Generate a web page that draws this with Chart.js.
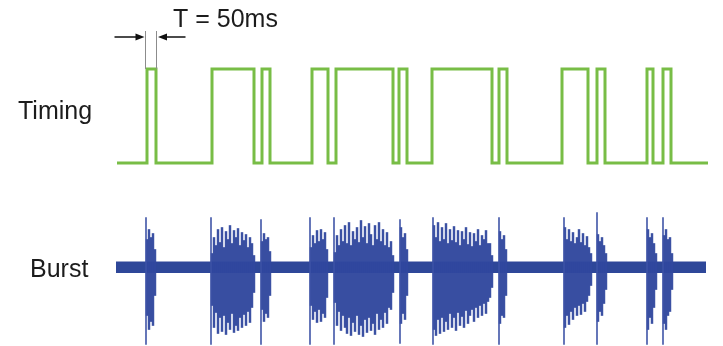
<!DOCTYPE html>
<html>
<head>
<meta charset="utf-8">
<script src="https://cdn.jsdelivr.net/npm/chart.js@4"></script>
<style>
  html, body { margin: 0; padding: 0; background: #ffffff; }
  #wrap { width: 723px; height: 346px; position: relative; }
</style>
</head>
<body>
<div id="wrap"><canvas id="c" width="723" height="346"></canvas></div>
<script>
// ---------- data (time in ms) ----------
const rowLabels = ['Timing', 'Burst'];
const periodLabel = 'T = 50ms';
const periodStartMs = 150;
const periodEndMs = 195;

// timing signal: level changes at these instants
const timingEdgeMs = [0, 150, 195, 475, 685, 725, 765, 975, 1055, 1095, 1380, 1410, 1450,
                      1575, 1875, 1910, 1950, 2225, 2355, 2400, 2440, 2650, 2680, 2730, 2770, 2955];
const timingLevel  = [0, 1, 0, 1, 0, 1, 0, 1, 0, 1, 0, 1, 0,
                      1, 0, 1, 0, 1, 0, 1, 0, 1, 0, 1, 0, 0];

// background noise of the burst trace (mV)
const noiseStartMs = -5;
const noiseEndMs = 2945;
const noiseHigh = 5.5;
const noiseLow = -5.5;

// tall single spikes at the start of each burst (mV)
const spikeMs   = [145, 470, 720, 965, 1085, 1415, 1580, 1910, 2235, 2400, 2650, 2730];
const spikeHigh = [50, 50, 48, 50, 50, 48, 50, 50, 50, 55, 50, 50];
const spikeLow  = [-77, -77, -77, -77, -77, -76, -77, -77, -77, -77, -77, -77];

// burst envelopes, sampled every 10 ms from each cluster start (mV)
const sampleStepMs = 10;
const clusterStartMs = [150, 475, 725, 970, 1090, 1420, 1585, 1915, 2240, 2405, 2655, 2735];
const clusterHigh = [
  [28, 38, 30, 34, 18],
  [14, 30, 22, 38, 25, 40, 20, 36, 28, 42, 24, 37, 30, 39, 22, 35, 27, 33, 20, 30, 24, 12],
  [26, 34, 28, 30, 16],
  [20, 32, 24, 37, 26, 38, 28, 35, 18],
  [15, 32, 22, 38, 26, 42, 24, 45, 22, 36, 28, 40, 25, 47, 30, 41, 24, 44, 33, 22, 42, 28, 45, 26, 38, 22, 35, 20, 26, 12],
  [40, 30, 34, 18],
  [42, 30, 45, 26, 40, 28, 44, 24, 38, 27, 41, 25, 37, 22, 36, 28, 40, 23, 35, 21, 34, 26, 38, 22, 32, 28, 37, 24, 24, 12],
  [36, 28, 32, 18],
  [40, 28, 38, 26, 35, 24, 30, 38, 25, 34, 22, 31, 20, 14],
  [33, 26, 30, 22, 14],
  [38, 30, 34, 24, 14],
  [32, 38, 28, 30, 14]
];
const clusterLow = [
  [-48, -62, -54, -58, -28],
  [-38, -60, -45, -66, -50, -64, -48, -67, -55, -62, -46, -65, -58, -63, -50, -60, -47, -58, -44, -55, -40, -25],
  [-42, -54, -46, -50, -28],
  [-38, -52, -44, -55, -42, -54, -46, -50, -30],
  [-35, -58, -44, -63, -48, -60, -66, -50, -68, -55, -64, -48, -67, -58, -69, -52, -65, -50, -63, -56, -67, -46, -62, -52, -60, -45, -56, -40, -42, -25],
  [-56, -46, -52, -28],
  [-62, -68, -52, -66, -50, -64, -54, -62, -46, -60, -50, -63, -45, -58, -49, -60, -43, -56, -48, -42, -54, -40, -50, -38, -48, -36, -46, -34, -30, -20],
  [-56, -48, -50, -28],
  [-60, -48, -57, -44, -52, -40, -48, -38, -47, -36, -44, -34, -28, -18],
  [-54, -44, -48, -36, -22],
  [-62, -50, -56, -40, -22],
  [-56, -62, -48, -44, -22]
];

// ---------- build datasets ----------
const timingPoints = timingEdgeMs.map((t, i) => ({ x: t, y: timingLevel[i] }));
const noisePoints = [{ x: noiseStartMs, y: noiseHigh }, { x: noiseEndMs, y: noiseHigh }];
const spikeBars = spikeMs.map((t, i) => ({ x: t, y: [spikeLow[i], spikeHigh[i]] }));
const clusterBars = [];
clusterStartMs.forEach((t0, c) => {
  clusterHigh[c].forEach((h, k) => {
    clusterBars.push({ x: t0 + k * sampleStepMs, y: [clusterLow[c][k], h] });
  });
});

const GREEN = '#78bd46';
const BLUE = '#2e4799';

const annot = {
  id: 'annot',
  afterDraw(chart) {
    const { ctx } = chart;
    const x = chart.scales.x, yT = chart.scales.yT;
    ctx.save();
    ctx.fillStyle = '#1c1c1c';
    ctx.font = '25px "Liberation Sans", Arial, sans-serif';
    ctx.textBaseline = 'alphabetic';
    ctx.fillText(rowLabels[0], 18, 119);
    ctx.fillText(rowLabels[1], 30, 277);

    // period guides
    const xa = x.getPixelForValue(periodStartMs) - 1.5;
    const xb = x.getPixelForValue(periodEndMs) + 0.5;
    const yTop = yT.getPixelForValue(1);
    ctx.strokeStyle = '#8c8c8c';
    ctx.lineWidth = 1;
    ctx.beginPath();
    ctx.moveTo(xa, 31); ctx.lineTo(xa, yTop);
    ctx.moveTo(xb, 31); ctx.lineTo(xb, yTop);
    ctx.stroke();

    // arrows
    const ay = 37;
    ctx.strokeStyle = '#111';
    ctx.fillStyle = '#111';
    ctx.lineWidth = 1.5;
    ctx.beginPath();
    ctx.moveTo(xa - 31, ay); ctx.lineTo(xa - 6, ay);
    ctx.moveTo(xb + 29, ay); ctx.lineTo(xb + 6, ay);
    ctx.stroke();
    ctx.beginPath();
    ctx.moveTo(xa - 1, ay); ctx.lineTo(xa - 10, ay - 3.5); ctx.lineTo(xa - 10, ay + 3.5); ctx.closePath();
    ctx.moveTo(xb + 1.5, ay); ctx.lineTo(xb + 10.5, ay - 3.5); ctx.lineTo(xb + 10.5, ay + 3.5); ctx.closePath();
    ctx.fill();

    ctx.fillStyle = '#1c1c1c';
    ctx.font = '25px "Liberation Sans", Arial, sans-serif';
    ctx.fillText(periodLabel, 173, 27);
    ctx.restore();
  }
};

new Chart(document.getElementById('c'), {
  type: 'line',
  data: {
    datasets: [
      {
        type: 'line', data: timingPoints, xAxisID: 'x', yAxisID: 'yT',
        stepped: 'before', borderColor: GREEN, borderWidth: 3, pointRadius: 0,
        fill: false, order: 0, borderJoinStyle: 'miter', borderCapStyle: 'butt'
      },
      {
        type: 'bar', data: spikeBars, xAxisID: 'x', yAxisID: 'yB',
        backgroundColor: 'rgba(60,82,165,0.95)', borderWidth: 0, barThickness: 1,
        grouped: false, order: 1
      },
      {
        type: 'bar', data: clusterBars, xAxisID: 'x', yAxisID: 'yB',
        backgroundColor: 'rgba(48,72,158,0.95)', borderWidth: 0, barThickness: 1.8,
        grouped: false, order: 2
      },
      {
        type: 'line', data: noisePoints, xAxisID: 'x', yAxisID: 'yB',
        borderColor: BLUE, borderWidth: 1, pointRadius: 0,
        backgroundColor: BLUE, fill: { value: noiseLow }, order: 3
      }
    ]
  },
  options: {
    responsive: false,
    animation: false,
    events: [],
    layout: { padding: 0 },
    plugins: { legend: { display: false }, tooltip: { enabled: false }, title: { display: false } },
    scales: {
      x: { type: 'linear', display: false, offset: false, grid: { offset: false }, min: -585, max: 3030 },
      yT: { type: 'linear', display: false, offset: false, min: -1.947, max: 1.734 },
      yB: { type: 'linear', display: false, offset: false, min: -78.5, max: 267.5 }
    }
  },
  plugins: [annot]
});
</script>
</body>
</html>
